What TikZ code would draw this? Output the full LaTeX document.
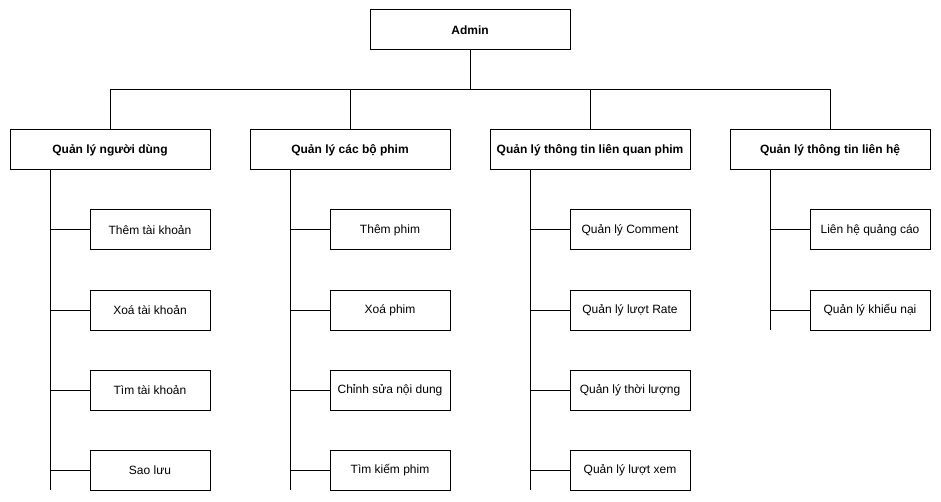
\documentclass[tikz,border=0pt]{standalone}
\usepackage{fontspec}
\setmainfont{Liberation Sans}
\begin{document}
\begin{tikzpicture}[x=1pt,y=-1pt,
  box/.style={draw=black,line width=1pt,fill=white,minimum width=200pt,minimum height=40pt,inner sep=0pt,font=\fontsize{12}{14}\selectfont\bfseries},
  leaf/.style={draw=black,line width=1pt,fill=white,minimum width=120pt,minimum height=40pt,inner sep=0pt,font=\fontsize{12}{14}\selectfont},
  conn/.style={line width=1pt,draw=black}]
\useasboundingbox (0,0) rectangle (941,502);
\node[box] (admin) at (470,30) {Admin};
\node[box] (cA) at (110,150) {Quản lý người dùng};
\node[box] (cB) at (350,150) {Quản lý các bộ phim};
\node[box] (cC) at (590,150) {Quản lý thông tin liên quan phim};
\node[box] (cD) at (830,150) {Quản lý thông tin liên hệ};
\coordinate (bus) at (470,90);
\coordinate (sA) at (50,490);
\coordinate (sB) at (290,490);
\coordinate (sC) at (530,490);
\coordinate (sD) at (770,330);
\node[leaf] (a1) at (150,230) {Thêm tài khoản};
\node[leaf] (a2) at (150,310) {Xoá tài khoản};
\node[leaf] (a3) at (150,390) {Tìm tài khoản};
\node[leaf] (a4) at (150,470) {Sao lưu};
\node[leaf] (b1) at (390,230) {Thêm phim};
\node[leaf] (b2) at (390,310) {Xoá phim};
\node[leaf] (b3) at (390,390) {Chỉnh sửa nội dung};
\node[leaf] (b4) at (390,470) {Tìm kiếm phim};
\node[leaf] (c1) at (630,230) {Quản lý Comment};
\node[leaf] (c2) at (630,310) {Quản lý lượt Rate};
\node[leaf] (c3) at (630,390) {Quản lý thời lượng};
\node[leaf] (c4) at (630,470) {Quản lý lượt xem};
\node[leaf] (d1) at (870,230) {Liên hệ quảng cáo};
\node[leaf] (d2) at (870,310) {Quản lý khiếu nại};
\draw[conn] (admin.south) -- (bus);
\draw[conn] (cA.north) -- (cA.north |- bus) -- (cD.north |- bus) -- (cD.north);
\draw[conn] (cB.north) -- (cB.north |- bus);
\draw[conn] (cC.north) -- (cC.north |- bus);
\foreach \c/\s in {cA/sA,cB/sB,cC/sC,cD/sD}
  \draw[conn] (\c.south -| \s) -- (\s);
\foreach \n/\s in {a1/sA,a2/sA,a3/sA,a4/sA,b1/sB,b2/sB,b3/sB,b4/sB,c1/sC,c2/sC,c3/sC,c4/sC,d1/sD,d2/sD}
  \draw[conn] (\n.west) -- (\n.west -| \s);
\end{tikzpicture}
\end{document}
